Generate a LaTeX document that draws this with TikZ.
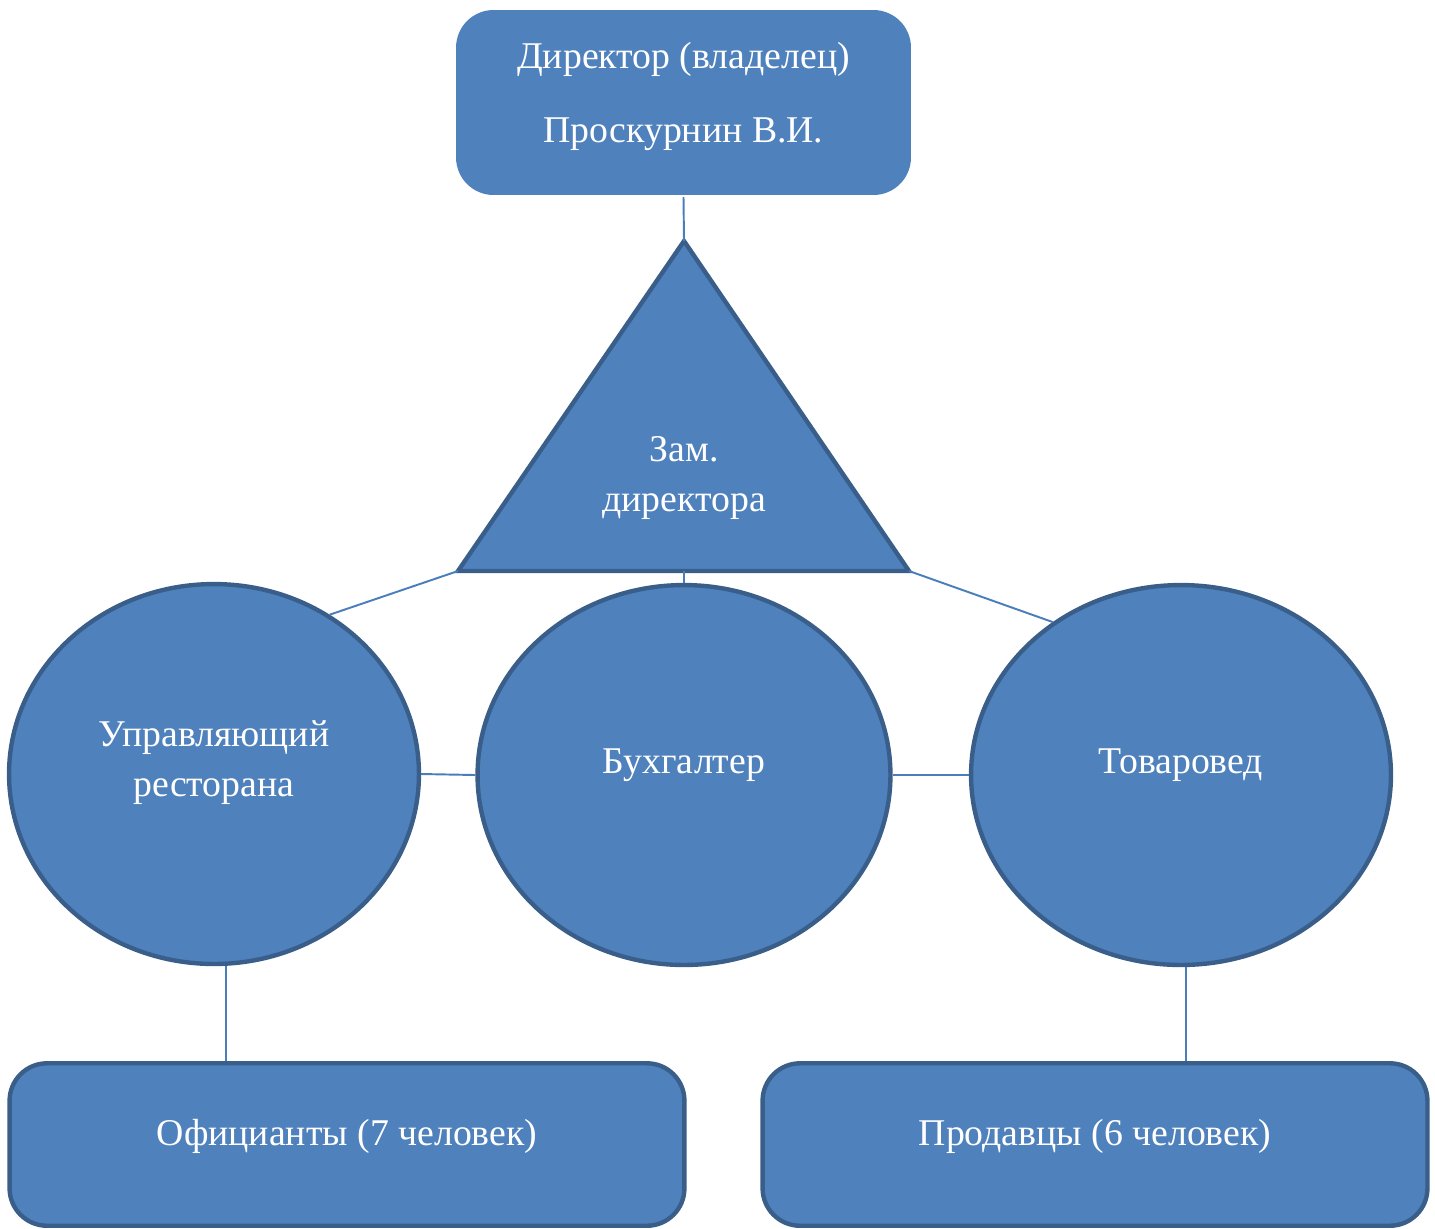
\documentclass[tikz,border=0pt]{standalone}
\usepackage{fontspec}
\setmainfont{Liberation Serif}
\usepackage{tikz}
\usetikzlibrary{shapes.geometric,positioning}
\definecolor{boxfill}{RGB}{79,129,189}
\definecolor{boxline}{RGB}{58,94,138}
\definecolor{wire}{RGB}{74,126,187}

\begin{document}
\begin{tikzpicture}[x=0.02cm,y=-0.02cm,font=\fontsize{21.5}{28.5}\selectfont,
      rbox/.style={rectangle,rounded corners=0.75cm,fill=boxfill,draw=boxline,line width=2.5pt,text=white,align=center},
      oval/.style={ellipse,fill=boxfill,draw=boxline,line width=2.5pt,text=white,align=center,inner sep=0pt},
      wireln/.style={draw=wire,line width=1.1pt}]
    \useasboundingbox (0,0) rectangle (1435,1228);
    % top
    \node[rbox,draw=none,minimum width=9.1cm,minimum height=3.7cm,text depth=11.5pt,font=\fontsize{21.5}{42}\selectfont] (dir) at (683.5,102.5) {Директор (владелец)\\Проскурнин В.И.};
    % deputy
    \coordinate (ta) at (684,241);
    \coordinate (tl) at (458,571);
    \coordinate (tr) at (909,571);
    \filldraw[fill=boxfill,draw=boxline,line width=2.5pt,line join=miter] (ta) -- (tl) -- (tr) -- cycle;
    \node[text=white,align=center] (zam) at (684,478) {Зам.\\директора};
    \coordinate (tm) at (684,571);
    % circles
    \node[oval,minimum width=8.2cm,minimum height=7.6cm,text depth=18pt] (lell) at (214,774) {Управляющий\\ресторана};
    \node[oval,minimum width=8.26cm,minimum height=7.6cm,text depth=16pt] (mell) at (684,775) {Бухгалтер};
    \node[oval,minimum width=8.4cm,minimum height=7.6cm,text depth=16pt] (rell) at (1181,775) {Товаровед};
    % staff
    \node[rbox,minimum width=13.5cm,minimum height=3.25cm,text depth=13.5pt] (lbox) at (347,1144.5) {Официанты (7 человек)};
    \node[rbox,minimum width=13.3cm,minimum height=3.25cm,text depth=13.5pt] (rbox) at (1095,1144.5) {Продавцы (6 человек)};
    % links
    \draw[wireln] (dir.south) -- (ta);
    \draw[wireln] (tl) -- (lell.54);
    \draw[wireln] (tm) -- (mell.north);
    \draw[wireln] (tr) -- (rell.130);
    \draw[wireln] (lell.east) -- (mell.west);
    \draw[wireln] (mell.east) -- (rell.west);
    \draw[wireln] ([xshift=7]lell.south) -- ([xshift=7]lell.south |- lbox.north);
    \draw[wireln] ([xshift=3]rell.south) -- ([xshift=3]rell.south |- rbox.north);
  \end{tikzpicture}
\end{document}
